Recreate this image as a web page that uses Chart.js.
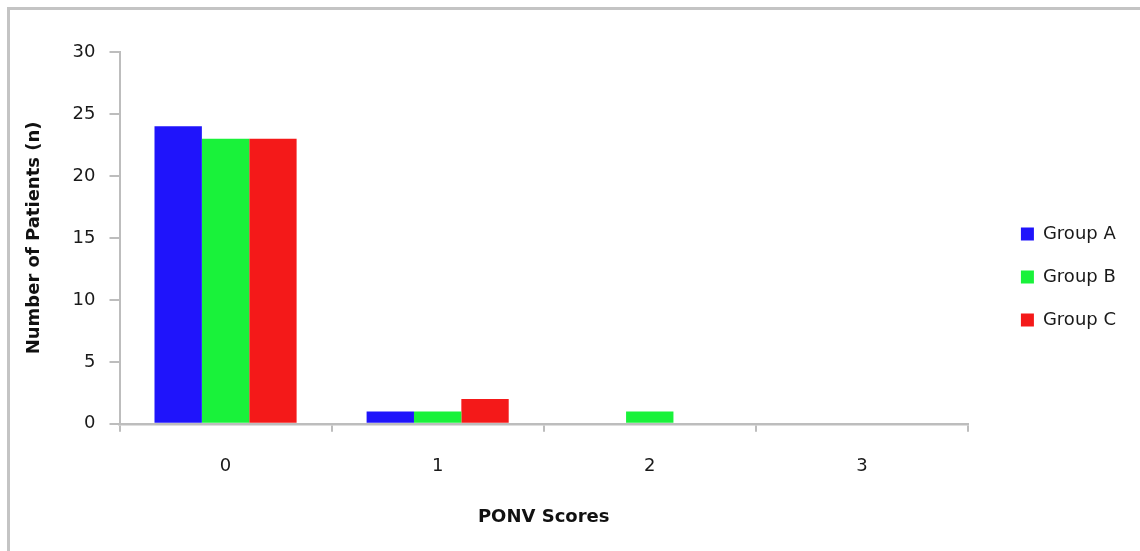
<!DOCTYPE html>
<html>
<head>
<meta charset="utf-8">
<script src="https://cdn.jsdelivr.net/npm/chart.js@4/dist/chart.umd.min.js"></script>
<style>
  html, body { margin: 0; padding: 0; overflow: hidden; background: #fff; }
  #frame {
    position: absolute; left: 7px; top: 7px;
    width: 1200px; height: 600px;
    border: 3px solid #c4c4c4;
  }
  #wrap { position: absolute; left: 0; top: 0; width: 1140px; height: 551px; }
</style>
</head>
<body>
<div id="frame"></div>
<div id="wrap"><canvas id="myChart"></canvas></div>
<script>
const scores = ['0', '1', '2', '3'];
const groupA = [24, 1, 0, 0];
const groupB = [23, 1, 1, 0];
const groupC = [23, 2, 0, 0];

const font = '"DejaVu Sans", sans-serif';
const axisGrey = '#bdbdbd';

// nudge the legend block away from the plot a bit
const legendShift = {
  id: 'legendShift',
  afterInit(chart) {
    const lg = chart.legend;
    const draw = lg.draw.bind(lg);
    lg.draw = function () {
      chart.ctx.save();
      chart.ctx.translate(28, -15);
      draw();
      chart.ctx.restore();
    };
  }
};

const ctx = document.getElementById('myChart');

new Chart(ctx, {
  type: 'bar',
  data: {
    labels: scores,
    datasets: [
      { label: 'Group A', data: groupA, backgroundColor: '#1f14fb' },
      { label: 'Group B', data: groupB, backgroundColor: '#19f23a' },
      { label: 'Group C', data: groupC, backgroundColor: '#f41919' }
    ]
  },
  plugins: [legendShift],
  options: {
    responsive: true,
    maintainAspectRatio: false,
    animation: false,
    datasets: {
      bar: { categoryPercentage: 0.67, barPercentage: 1.0, borderWidth: 0 }
    },
    layout: { padding: { left: 20, top: 52, right: 42, bottom: 19 } },
    plugins: {
      tooltip: { enabled: false },
      legend: {
        position: 'right',
        labels: {
          color: '#1a1a1a',
          font: { family: font, size: 18 },
          boxWidth: 13,
          boxHeight: 13,
          padding: 25
        }
      }
    },
    scales: {
      x: {
        grid: {
          offset: true,
          drawOnChartArea: false,
          drawTicks: true,
          tickLength: 8,
          color: axisGrey,
          lineWidth: 2
        },
        border: { color: axisGrey, width: 2.5 },
        ticks: { color: '#1a1a1a', font: { family: font, size: 18 }, padding: 24 },
        title: {
          display: true,
          text: 'PONV Scores',
          color: '#111',
          font: { family: font, size: 18, weight: 'bold' },
          padding: { top: 5 }
        }
      },
      y: {
        min: 0,
        max: 30,
        ticks: { stepSize: 5, color: '#1a1a1a', font: { family: font, size: 18 }, padding: 14 },
        grid: {
          drawOnChartArea: false,
          drawTicks: true,
          tickLength: 10,
          color: axisGrey,
          lineWidth: 2
        },
        border: { color: axisGrey, width: 2 },
        title: {
          display: true,
          text: 'Number of Patients (n)',
          color: '#111',
          font: { family: font, size: 18, weight: 'bold' },
          padding: { bottom: 13 }
        }
      }
    }
  }
});
</script>
</body>
</html>
